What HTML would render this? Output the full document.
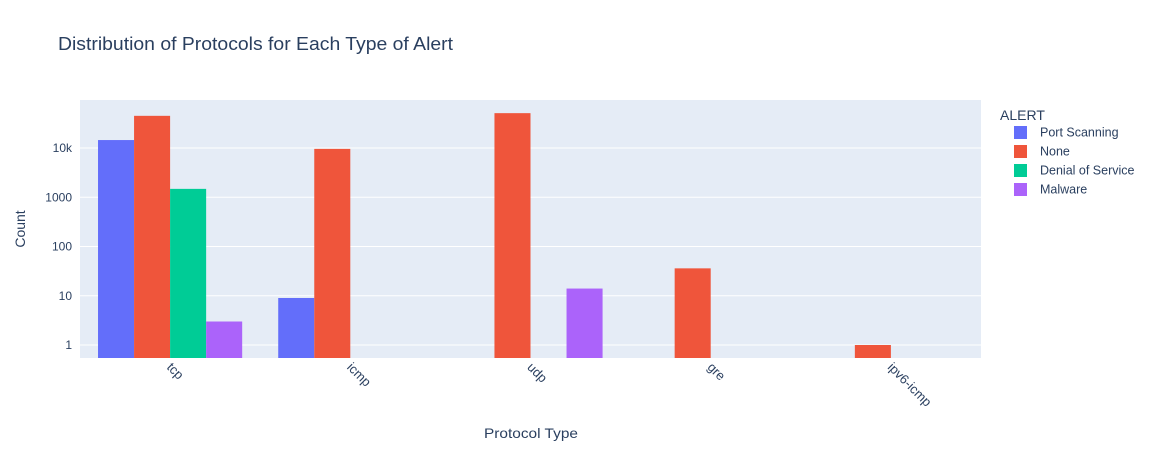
<!DOCTYPE html>
<html><head><meta charset="utf-8"><style>
body{margin:0;background:#fff;font-family:"Liberation Sans",Arial,sans-serif;}
</style></head><body>
<svg id="chart" width="1158" height="450" xmlns="http://www.w3.org/2000/svg" font-family="Liberation Sans, Arial, sans-serif">
<rect width="1158" height="450" fill="#fff"/>
<text x="58" y="50" font-size="18" fill="#2a3f5f" textLength="395" lengthAdjust="spacingAndGlyphs">Distribution of Protocols for Each Type of Alert</text>
<rect x="80" y="100" width="901" height="258" fill="#e5ecf6"/>
<g id="grid"></g><g id="bars"></g><g id="yticks"></g><g id="xticks"></g>
<text x="531" y="438" font-size="14" fill="#2a3f5f" text-anchor="middle" textLength="94" lengthAdjust="spacingAndGlyphs">Protocol Type</text>
<text transform="translate(25,229) rotate(-90)" font-size="14" fill="#2a3f5f" text-anchor="middle">Count</text>
<g id="legend"><text x="1000" y="120" font-size="14" fill="#2a3f5f">ALERT</text></g>
</svg>
<script>
const categories=["tcp","icmp","udp","gre","ipv6-icmp"];
const seriesNames=["Port Scanning","None","Denial of Service","Malware"];
const portScanning=[14500,9,null,null,null];
const none=[45000,9600,51000,36,1];
const dos=[1480,null,null,null,null];
const malware=[3,null,14,null,null];
const yTickVals=[1,10,100,1000,10000];
const yTickLabels=["1","10","100","1000","10k"];
const colors=["#636efa","#EF553B","#00cc96","#ab63fa"];
const series=[portScanning,none,dos,malware];
const NS="http://www.w3.org/2000/svg";
const X0=80,W=901,YB=358,YT=100;
const y=v=>345-Math.log10(v)*49.25;
const band=W/categories.length;
const x=i=>X0+band*i+band/2;
function mk(t,a,p){const e=document.createElementNS(NS,t);for(const k in a)e.setAttribute(k,a[k]);document.getElementById(p).appendChild(e);return e;}
yTickVals.forEach((v,i)=>{
 const g=mk('line',{x1:X0,x2:X0+W,y1:y(v),y2:y(v),stroke:'#fff','stroke-width':1},'grid');
 
 
 const t=mk('text',{x:X0-8,y:y(v)+4,'font-size':12,fill:'#2a3f5f','text-anchor':'end'},'yticks');
 t.textContent=yTickLabels[i];
 
 
});
const bw=band*0.8/4;
categories.forEach((c,i)=>{
 series.forEach((s,j)=>{
  if(s[i]==null)return;
  const bx=x(i)-band*0.4+bw*j;
  const r=mk('rect',{x:bx,y:y(s[i]),width:bw,height:YB-y(s[i]),fill:colors[j]},'bars');
  
  
 });
 const t=mk('text',{transform:`translate(${x(i)-4},${YB+10}) rotate(45)`,'font-size':13,fill:'#2a3f5f'},'xticks');
 t.textContent=c;
 
 
});
seriesNames.forEach((n,j)=>{
 const yy=132+j*19;
 const r=mk('rect',{x:1014,y:yy-6,width:13,height:13,fill:colors[j]},'legend');
 
 
 const t=mk('text',{x:1040,y:yy+4.5,'font-size':12.5,fill:'#2a3f5f'},'legend');
 t.textContent=n;
 
 
});
</script>
</body></html>
